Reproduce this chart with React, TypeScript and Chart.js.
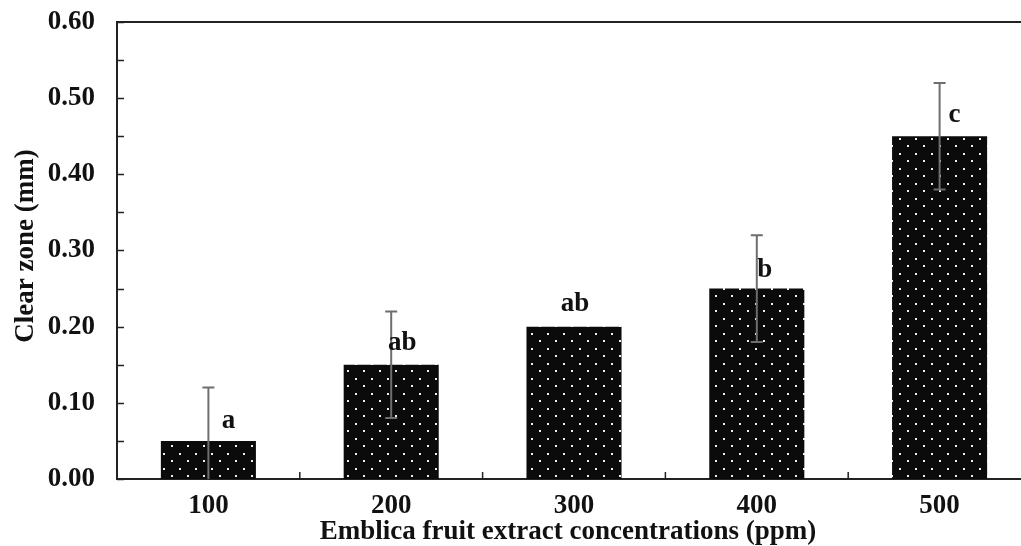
import React, { useEffect, useRef } from "react";
import { Chart, registerables } from "chart.js";

Chart.register(...registerables);

const categories = ["100", "200", "300", "400", "500"];
const means = [0.05, 0.15, 0.2, 0.25, 0.45];
const errors = [0.07, 0.07, 0.0, 0.07, 0.07];
const letters = ["a", "ab", "ab", "b", "c"];
const yTickValues = [0, 0.1, 0.2, 0.3, 0.4, 0.5, 0.6];
const xTitle = "Emblica fruit extract concentrations (ppm)";
const yTitle = "Clear zone (mm)";

const FONT = '"Liberation Serif", "Times New Roman", serif';
const FS = 27;

export default function App() {
  const ref = useRef<HTMLCanvasElement | null>(null);

  useEffect(() => {
    const canvas = ref.current;
    if (!canvas) return;
    const ctx = canvas.getContext("2d")!;

    const tile = document.createElement("canvas");
    tile.width = 16;
    tile.height = 15;
    const tctx = tile.getContext("2d")!;
    tctx.fillStyle = "#0b0b0b";
    tctx.fillRect(0, 0, 16, 15);
    tctx.fillStyle = "#f0f0f0";
    tctx.fillRect(3, 3, 2, 2);
    tctx.fillRect(11, 10, 2, 2);
    const pattern = ctx.createPattern(tile, "repeat")!;

    const letterDx = [20, 11, 1, 8, 15];
    const letterDy = [-20, -22, -23, -19, -21];

    const overlay = {
      id: "overlay",
      afterDatasetsDraw(chart: any) {
        const c = chart.ctx;
        const xs = chart.scales.x;
        const ys = chart.scales.y;
        const area = chart.chartArea;
        c.save();
        // error bars
        c.strokeStyle = "#6e6e6e";
        c.lineWidth = 2;
        means.forEach((m, i) => {
          const e = errors[i];
          if (e <= 0) return;
          const x = xs.getPixelForValue(i);
          const yTop = ys.getPixelForValue(m + e);
          const yBot = ys.getPixelForValue(Math.max(0, m - e));
          c.beginPath();
          c.moveTo(x, yTop);
          c.lineTo(x, yBot);
          c.moveTo(x - 6, yTop);
          c.lineTo(x + 6, yTop);
          if (m - e > 0) {
            c.moveTo(x - 6, yBot);
            c.lineTo(x + 6, yBot);
          }
          c.stroke();
        });
        // letters
        c.fillStyle = "#111";
        c.font = `bold ${FS}px ${FONT}`;
        c.textAlign = "center";
        c.textBaseline = "middle";
        letters.forEach((t, i) => {
          const x = xs.getPixelForValue(i) + letterDx[i];
          const y = ys.getPixelForValue(means[i]) + letterDy[i];
          c.fillText(t, x, y);
        });
        // top border
        c.strokeStyle = "#222";
        c.lineWidth = 2;
        c.beginPath();
        c.moveTo(area.left, area.top);
        c.lineTo(area.right, area.top);
        c.stroke();
        // y ticks (inward, every 0.05)
        c.beginPath();
        for (let k = 0; k <= 12; k++) {
          const y = Math.round(ys.getPixelForValue(k * 0.05)) + 0.5;
          c.moveTo(area.left, y);
          c.lineTo(area.left + 7, y);
        }
        c.lineWidth = 1.5;
        c.stroke();
        // x ticks (inward at category boundaries)
        c.beginPath();
        for (let i = 0; i < categories.length - 1; i++) {
          const x = (xs.getPixelForValue(i) + xs.getPixelForValue(i + 1)) / 2;
          c.moveTo(x, area.bottom);
          c.lineTo(x, area.bottom - 7);
        }
        c.stroke();
        // titles
        c.fillStyle = "#111";
        c.font = `bold ${FS}px ${FONT}`;
        c.textAlign = "center";
        c.textBaseline = "alphabetic";
        c.fillText(xTitle, 568, 539);
        c.save();
        c.translate(33, 246);
        c.rotate(-Math.PI / 2);
        c.textBaseline = "alphabetic";
        c.fillText(yTitle, 0, 0);
        c.restore();
        c.restore();
      },
    };

    const chart = new Chart(canvas, {
      type: "bar",
      data: {
        labels: categories,
        datasets: [
          {
            data: means,
            backgroundColor: pattern,
            borderWidth: 0,
            barPercentage: 0.52,
            categoryPercentage: 1,
          },
        ],
      },
      options: {
        responsive: false,
        animation: false,
        layout: { padding: { left: 0, top: 22, right: 9, bottom: 0 } },
        plugins: {
          legend: { display: false },
          tooltip: { enabled: false },
          title: { display: false },
        },
        scales: {
          x: {
            grid: { display: false, drawTicks: false },
            border: { display: true, color: "#222", width: 2 },
            ticks: {
              color: "#111",
              padding: 11,
              font: { family: FONT, size: FS, weight: "bold" },
            },
            afterFit: (s: any) => {
              s.height = 67;
              s.paddingLeft = 0;
              s.paddingRight = 0;
            },
          },
          y: {
            min: 0,
            max: 0.6,
            afterBuildTicks: (s: any) => {
              s.ticks = yTickValues.map((v) => ({ value: v }));
            },
            grid: { display: false, drawTicks: false },
            border: { display: true, color: "#222", width: 2 },
            ticks: {
              color: "#111",
              padding: 22,
              font: { family: FONT, size: FS, weight: "bold" },
              callback: (v: any) => Number(v).toFixed(2),
            },
            afterFit: (s: any) => {
              s.width = 117;
              s.paddingTop = 0;
              s.paddingBottom = 0;
            },
          },
        },
      },
      plugins: [overlay],
    });
    return () => chart.destroy();
  }, []);

  return (
    <div
      style={{
        position: "fixed",
        left: 0,
        top: 0,
        width: 1021,
        height: 546,
        overflow: "hidden",
        background: "#fff",
      }}
    >
      <canvas ref={ref} width={1040} height={546} style={{ width: 1040, height: 546, display: "block" }} />
    </div>
  );
}
